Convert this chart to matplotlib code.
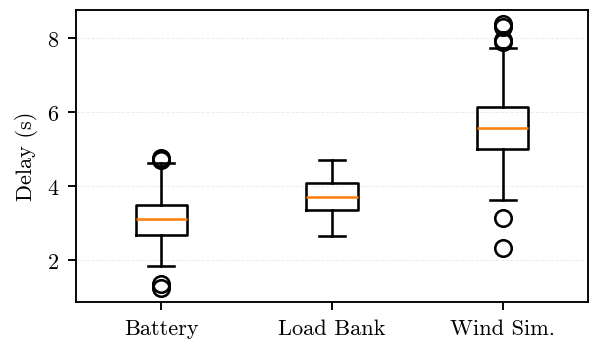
import matplotlib
matplotlib.use("Agg")
import matplotlib.pyplot as plt

plt.rcParams.update({
    "font.family": "serif",
    "font.serif": ["cmr10"],
    "mathtext.fontset": "cm",
    "axes.formatter.use_mathtext": True,
    "font.size": 9.5,
})

categories = ["Battery", "Load Bank", "Wind Sim."]
whislo = [1.83, 2.64, 3.62]
q1 = [2.68, 3.35, 5.00]
med = [3.10, 3.70, 5.57]
q3 = [3.48, 4.09, 6.13]
whishi = [4.62, 4.70, 7.73]
fliers = [
    [4.72, 4.76, 1.35, 1.25],
    [],
    [8.40, 8.31, 7.95, 7.91, 3.14, 2.32],
]

stats = []
for i, name in enumerate(categories):
    stats.append({
        "label": name,
        "whislo": whislo[i],
        "q1": q1[i],
        "med": med[i],
        "q3": q3[i],
        "whishi": whishi[i],
        "fliers": fliers[i],
    })

fig = plt.figure(figsize=(3.5, 343 / 169.43), dpi=169.43)
ax = fig.add_axes([0.128, 0.1175, 0.864, 0.8515])

line = {"linewidth": 1.1, "color": "black"}
ax.bxp(stats, widths=0.3,
       boxprops=line, whiskerprops=line, capprops=line,
       medianprops={"color": "#ff7f0e", "linewidth": 1.1},
       flierprops={"marker": "o", "markersize": 7, "markerfacecolor": "none",
                   "markeredgecolor": "black", "markeredgewidth": 1.1})

ax.set_ylim(0.87, 8.78)
ax.set_xlim(0.5, 3.5)
ax.set_yticks([2, 4, 6, 8])
ax.set_ylabel("Delay (s)")
ax.yaxis.grid(True, linestyle="--", linewidth=0.4, color="#d8d8d8", alpha=0.5)
ax.set_axisbelow(True)
for s in ax.spines.values():
    s.set_linewidth(0.8)

fig.savefig("out.png", dpi=169.43)
